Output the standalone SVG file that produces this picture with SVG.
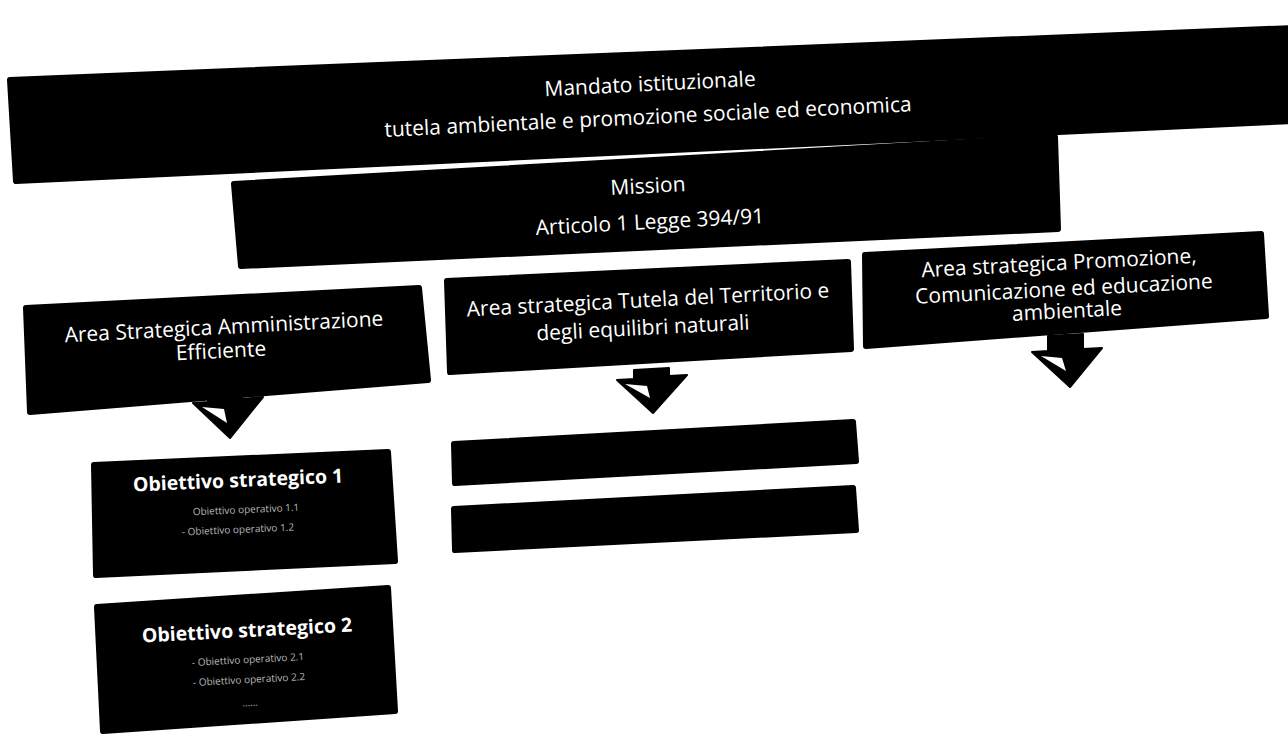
<svg xmlns="http://www.w3.org/2000/svg" width="1288" height="742" viewBox="0 0 1288 742">
<style>
.box{fill:#000;stroke:#000;stroke-width:6;stroke-linejoin:round}
.t{font-family:"Open Sans","Noto Sans",sans-serif;font-size:21px;fill:#fff;text-anchor:middle}
.tb{font-family:"Open Sans","Noto Sans",sans-serif;font-size:19.5px;font-weight:bold;fill:#fff;text-anchor:middle}
.ts{font-family:"Open Sans","Noto Sans",sans-serif;font-size:10px;fill:#b8b8b8;text-anchor:middle}
.arr{fill:#000;stroke:#000;stroke-width:2;stroke-linejoin:round}
.hl{fill:#fff}
</style>
<rect width="1288" height="742" fill="#fff"/>
<g id="mandato">
<polygon class="box" points="10,80 1292,28 1292,121 16,181"/>
<text class="t" x="650" y="91" transform="rotate(-2.8 650 84)">Mandato istituzionale</text>
<text class="t" x="648" y="124" transform="rotate(-2.8 648 118)">tutela ambientale e promozione sociale ed economica</text>
</g>
<g id="mission">
<polygon class="box" points="234,184 1055,137 1058,229 241,266"/>
<text class="t" x="648" y="193" transform="rotate(-3 648 187)">Mission</text>
<text class="t" x="650" y="229" transform="rotate(-3 650 223)">Articolo 1 Legge 394/91</text>
</g>
<g id="area-amministrazione">
<polygon class="box" points="26,308 419,288 428,380 30,412"/>
<text class="t" x="224" y="334" transform="rotate(-3 224 328)">Area Strategica Amministrazione</text>
<text class="t" x="221" y="358" transform="rotate(-3 221 352)">Efficiente</text>
</g>
<g id="area-tutela">
<polygon class="box" points="447,281 848,262 851,349 450,372"/>
<text class="t" x="648" y="307" transform="rotate(-3 648 301)">Area strategica Tutela del Territorio e</text>
<text class="t" x="643" y="335" transform="rotate(-3 643 329)">degli equilibri naturali</text>
</g>
<g id="area-promozione">
<polygon class="box" points="865,255 1261,234 1266,316 866,346"/>
<text class="t" x="1059" y="270" transform="rotate(-3 1059 264)">Area strategica  Promozione,</text>
<text class="t" x="1064" y="296" transform="rotate(-3 1064 290)">Comunicazione  ed educazione</text>
<text class="t" x="1067" y="318" transform="rotate(-3 1067 312)">ambientale</text>
</g>
<g id="obiettivo-1">
<polygon class="box" points="94,465 388,452 395,561 96,575"/>
<text class="tb" x="238" y="487" transform="rotate(-2.5 238 480)">Obiettivo  strategico 1</text>
<text class="ts" x="246" y="513" transform="rotate(-2.5 246 510)">Obiettivo operativo 1.1</text>
<text class="ts" x="238" y="533" transform="rotate(-2.5 238 530)">- Obiettivo operativo 1.2</text>
</g>
<g id="obiettivo-2">
<polygon class="box" points="97,607 388,588 395,711 103,731"/>
<text class="tb" x="247" y="637" transform="rotate(-3 247 630)">Obiettivo strategico  2</text>
<text class="ts" x="248" y="663" transform="rotate(-3 248 660)">- Obiettivo operativo 2.1</text>
<text class="ts" x="249" y="683" transform="rotate(-3 249 680)">- Obiettivo operativo 2.2</text>
<text class="ts" x="250" y="706" transform="rotate(-3 250 703)">……</text>
</g>
<g id="obiettivo-tutela-1">
<polygon class="box" points="454,444 853,422 856,461 455,483"/>
</g>
<g id="obiettivo-tutela-2">
<polygon class="box" points="454,509 853,488 856,530 455,550"/>
</g>
<g id="connectors">
<polygon class="arr" points="208,392 242,390 242,399 263,397 230,438 193,403 208,402"/>
<polygon class="hl" points="202,407 224,409 227,423"/>
<polygon class="arr" points="634,370 669,368 669,376 687,375 653,413 617,380 634,379"/>
<polygon class="hl" points="625,384 647,386 650,398"/>
<polygon class="arr" points="1048,336 1083,334 1083,349 1102,348 1070,387 1032,352 1048,351"/>
<polygon class="hl" points="1041,356 1062,358 1066,371"/>
</g>
</svg>
